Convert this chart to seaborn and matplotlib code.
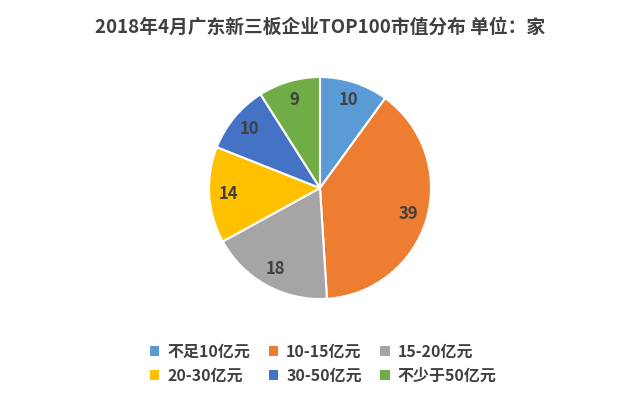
import matplotlib
matplotlib.use("Agg")
import matplotlib.pyplot as plt
import seaborn as sns
from matplotlib.patches import Patch

categories = ["不足10亿元", "10-15亿元", "15-20亿元", "20-30亿元", "30-50亿元", "不少于50亿元"]
values = [10, 39, 18, 14, 10, 9]
colors = ["#5B9BD5", "#ED7D31", "#A5A5A5", "#FFC000", "#4472C4", "#70AD47"]
title = "2018年4月广东新三板企业TOP100市值分布 单位：家"

sns.set_theme(style="white")
plt.rcParams['font.family'] = ['Noto Sans CJK SC', 'DejaVu Sans']

W, H = 640, 399
fig = plt.figure(figsize=(W / 100, H / 100), dpi=100)
cx, cy, r = 320, 188, 111
ax = fig.add_axes([(cx - r) / W, (H - cy - r) / H, 2 * r / W, 2 * r / H])

wedges, texts, autotexts = ax.pie(
    values, colors=colors, startangle=90, counterclock=False,
    autopct=lambda p: f"{round(p * sum(values) / 100):d}", pctdistance=0.83,
    wedgeprops=dict(edgecolor="white", linewidth=1.5),
    textprops=dict(fontsize=12, fontweight="bold", color="#404040"))
ax.set_xlim(-1, 1)
ax.set_ylim(-1, 1)
ax.set_aspect("equal")

fig.text(0.5, 1 - 27 / H, title, ha="center", va="center", fontsize=13.5,
         fontweight="bold", color="#404040")

# row-wise legend order for a 3-column, 2-row layout
order = [0, 3, 1, 4, 2, 5]
handles = [Patch(facecolor=colors[i], edgecolor="none") for i in order]
labels = [categories[i] for i in order]
leg = fig.legend(handles, labels, loc="center", bbox_to_anchor=(0.505, 1 - 364 / H),
                 ncol=3, frameon=False, fontsize=11.5, handlelength=0.6, handleheight=0.6,
                 handletextpad=0.5, columnspacing=1.15, labelspacing=0.5)
for t in leg.get_texts():
    t.set_fontweight("bold")
    t.set_color("#404040")

fig.savefig("out.png", dpi=100, facecolor="white")
